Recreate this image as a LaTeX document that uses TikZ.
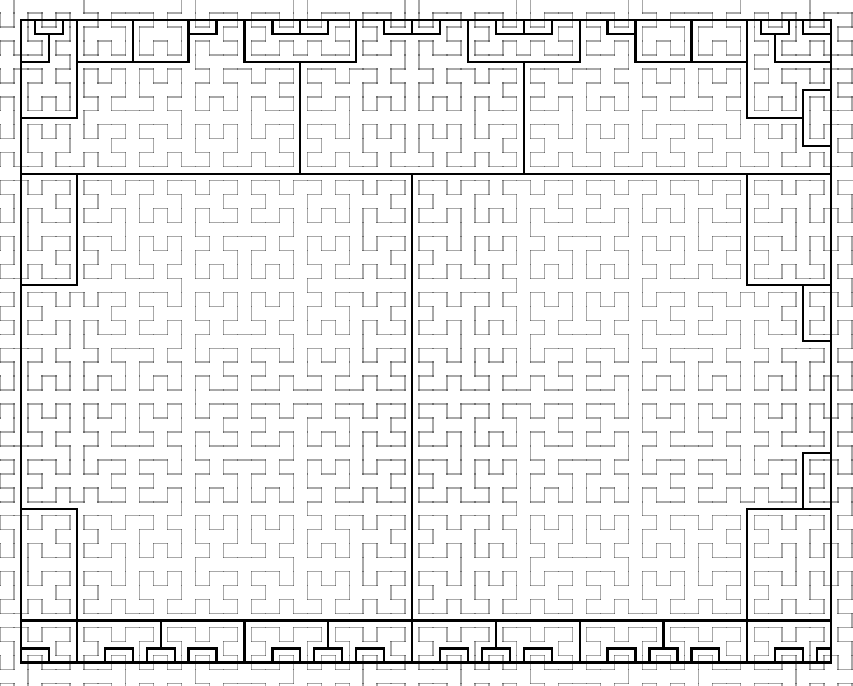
\documentclass[tikz,border=0pt]{standalone}
\newcount\hX \newcount\hY \newcount\hT \newcount\hS \newcount\hQ \newcount\hR \newcount\hTmp
\newcount\dd \newcount\cc \newcount\rr \newcount\pc \newcount\pr \newcount\runid
\newcount\ci \newcount\ri \newcount\cO \newcount\rO
\newif\ifprevin \newif\ifhavep \newif\ifcurin \newif\ifrev
\def\hstep{%
  \hQ=\hT \divide\hQ by 4
  \hR=\numexpr\hT-4*\hQ\relax
  \ifcase\hR
    \hTmp=\hX \hX=\hY \hY=\hTmp
  \or
    \advance\hY by \hS
  \or
    \advance\hX by \hS \advance\hY by \hS
  \or
    \hTmp=\hX
    \hX=\numexpr\hS-1-\hY\relax
    \hY=\numexpr\hS-1-\hTmp\relax
    \advance\hX by \hS
  \fi
  \hT=\hQ
  \multiply\hS by 2\relax}
\def\hdxy#1{\hX=0 \hY=0 \hT=#1\relax \hS=1 \hstep\hstep\hstep\hstep\hstep}
\def\setcell{%
  \ifcase\orient\relax
    \cc=\numexpr\cO+\hY\relax \rr=\numexpr\rO+\hX\relax
  \or
    \cc=\numexpr\cO+31-\hY\relax \rr=\numexpr\rO+\hX\relax
  \fi}
\def\proc{%
  \setcell
  \curinfalse
  \ifnum\cc>3 \ifnum\cc<62 \ifnum\rr>4 \ifnum\rr<51 \curintrue\fi\fi\fi\fi
  \ifcurin
    \ifprevin\else\advance\runid by 1 \fi
    \expandafter\xdef\csname rn@\the\cc @\the\rr\endcsname{\the\runid}%
  \fi
  \ifhavep
    \ifnum\cc>0 \ifnum\pc>0 \ifnum\rr>1 \ifnum\pr>1 \ifnum\rr<54 \ifnum\pr<54
      \edef\xa{\the\pc}\edef\ya{\the\pr}\edef\xb{\the\cc}\edef\yb{\the\rr}%
      \draw[gline] (\xa,\ya) -- (\xb,\yb);%
    \fi\fi\fi\fi\fi\fi
  \fi
  \ifcurin\previntrue\else\previnfalse\fi
  \pc=\cc \pr=\rr \haveptrue}
\def\blockloop{%
  \ifnum\dd<1024
    \ifrev\hdxy{\numexpr1023-\dd\relax}\else\hdxy\dd\fi
    \proc
    \advance\dd by 1
    \expandafter\blockloop
  \fi}
\def\runblock#1#2#3#4#5{%
  \def\orient{#1}\cO=#2\relax \rO=#3\relax
  \ifnum#4=1 \revtrue\else\revfalse\fi
  \ifnum#5=0 \previnfalse\havepfalse\fi
  \dd=0 \blockloop}
\def\vloopc{%
  \ifnum\ci<61
    \ifnum\csname rn@\the\ci @\the\ri\endcsname=\csname rn@\the\numexpr\ci+1\relax @\the\ri\endcsname\relax
    \else
      \edef\xa{\the\ci.5}\edef\ya{\the\numexpr\ri-1\relax.5}\edef\yb{\the\ri.5}%
      \draw[bline] (\xa,\ya) -- (\xa,\yb);%
    \fi
    \advance\ci by 1
    \expandafter\vloopc
  \fi}
\def\vloopr{%
  \ifnum\ri<51
    \ci=4 \vloopc
    \advance\ri by 1
    \expandafter\vloopr
  \fi}
\def\hloopc{%
  \ifnum\ci<62
    \ifnum\csname rn@\the\ci @\the\ri\endcsname=\csname rn@\the\ci @\the\numexpr\ri+1\relax\endcsname\relax
    \else
      \edef\xa{\the\numexpr\ci-1\relax.5}\edef\xb{\the\ci.5}\edef\ya{\the\ri.5}%
      \draw[bline] (\xa,\ya) -- (\xb,\ya);%
    \fi
    \advance\ci by 1
    \expandafter\hloopc
  \fi}
\def\hloopr{%
  \ifnum\ri<50
    \ci=4 \hloopc
    \advance\ri by 1
    \expandafter\hloopr
  \fi}
\tikzset{
  gline/.style={line width=2.8pt, black, opacity=0.34, line cap=rect},
  bline/.style={line width=4.6pt, black, line cap=rect},
  frame/.style={line width=4.6pt, black, line join=miter}
}
\begin{document}
\begin{tikzpicture}[x=1cm,y=-1cm]
\useasboundingbox (1.996,3.067) rectangle (63.073,52.13);
\fill[white] (1.996,3.067) rectangle (63.073,52.13);
\clip (1.996,3.067) rectangle (63.073,52.13);
\runid=0
\runblock{1}{0}{-16}{0}{0}%
\runblock{0}{32}{-16}{1}{1}%
\runblock{0}{0}{16}{0}{0}%
\runblock{1}{32}{16}{0}{0}%
\runblock{1}{32}{48}{0}{1}%
\runblock{0}{0}{48}{0}{0}%
\ri=5 \vloopr
\ri=5 \hloopr
\draw[frame] (3.5,4.5) rectangle (61.5,50.5);
\end{tikzpicture}
\end{document}
